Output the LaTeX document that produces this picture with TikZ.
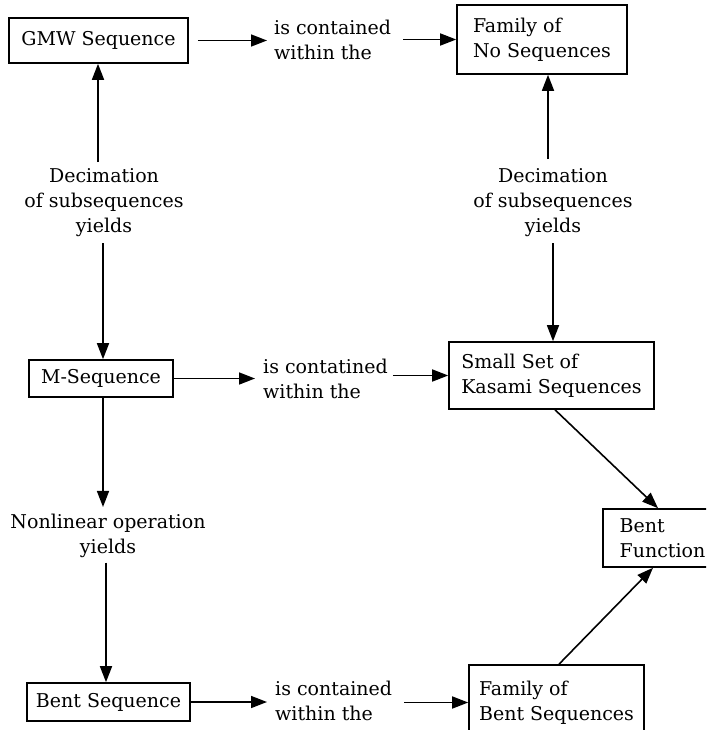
\documentclass[tikz,border=0pt]{standalone}
\usepackage{fontspec}
\setmainfont{DejaVu Serif}
\usetikzlibrary{arrows.meta}
\begin{document}
\begin{tikzpicture}[x=1pt,y=-1pt,
  txt/.style={font=\fontsize{19}{25}\selectfont, inner sep=0pt},
  box/.style={txt, draw, line width=1.6pt, align=left},
  lbl/.style={txt},
  arr/.style={line width=1.6pt, -{Triangle[length=16pt,width=12pt]}}]
\path[use as bounding box, fill=white] (0,0) rectangle (706,730);
\clip (0,0) rectangle (706,730);
% boxes
\node[box, minimum width=179pt, minimum height=45pt] (gmw) at (98.5,40.5) {GMW Sequence};
\node[box, minimum width=170pt, minimum height=69pt] (fam1) at (542,39.5) {Family of\\No Sequences};
\node[box, minimum width=144pt, minimum height=37pt] (mseq) at (101,378.5) {M-Sequence};
\node[box, minimum width=205pt, minimum height=67pt] (kas) at (551.5,375.5) {Small Set of\\Kasami Sequences};
\node[box, minimum width=119pt, minimum height=58pt] (bentf) at (662.5,538) {Bent\\Function};
\node[box, minimum width=163pt, minimum height=38pt] (bseq) at (108.5,702) {Bent Sequence};
\node[box, minimum width=175pt, minimum height=75pt] (fam2) at (556.5,702.5) {Family of\\Bent Sequences};
% labels
\node[lbl, anchor=west, align=left] (c1) at (274,40) {is contained\\within the};
\node[lbl, anchor=west, align=left] (c2) at (263,379) {is contatined\\within the};
\node[lbl, anchor=west, align=left] (c3) at (275,701) {is contained\\within the};
\node[lbl, align=center] (dec1) at (104,203) {Decimation\\of subsequences\\yields};
\node[lbl, align=center] (dec2) at (553,203) {Decimation\\of subsequences\\yields};
\node[lbl, align=center] (nonlin) at (108,535.5) {Nonlinear operation\\yields};
% horizontal arrows
\draw[arr, shorten <=9pt, shorten >=7pt] (gmw.east) -- (gmw.east -| c1.west);
\draw[arr, shorten <=12pt] (c1.east |- fam1.west) -- (fam1.west);
\draw[arr, shorten >=8pt] (mseq.east) -- (mseq.east -| c2.west);
\draw[arr, shorten <=5pt] (c2.east |- kas.west) -- (kas.west);
\draw[arr, shorten >=8pt] (bseq.east) -- (bseq.east -| c3.west);
\draw[arr, shorten <=12pt] (c3.east |- fam2.west) -- (fam2.west);
% vertical arrows
\draw[arr, shorten <=6.5pt] ([xshift=-6pt]dec1.north) -- ([xshift=-6pt]dec1.north |- gmw.south);
\draw[arr, shorten <=6pt] ([xshift=-1pt]dec1.south) -- ([xshift=-1pt]dec1.south |- mseq.north);
\draw[arr, shorten <=9.5pt] ([xshift=-5pt]dec2.north) -- ([xshift=-5pt]dec2.north |- fam1.south);
\draw[arr, shorten <=6pt] (dec2.south) -- (dec2.south |- kas.north);
\draw[arr, shorten >=6.5pt] ([xshift=2pt]mseq.south) -- ([xshift=2pt]mseq.south |- nonlin.north);
\draw[arr, shorten <=5pt] ([xshift=-2pt]nonlin.south) -- ([xshift=-2pt]nonlin.south |- bseq.north);
% diagonal arrows
\draw[arr] ([xshift=3.5pt]kas.south) -- ([xshift=-4.5pt]bentf.north);
\draw[arr] ([xshift=2.5pt]fam2.north) -- ([xshift=-9.5pt]bentf.south);
\end{tikzpicture}
\end{document}
